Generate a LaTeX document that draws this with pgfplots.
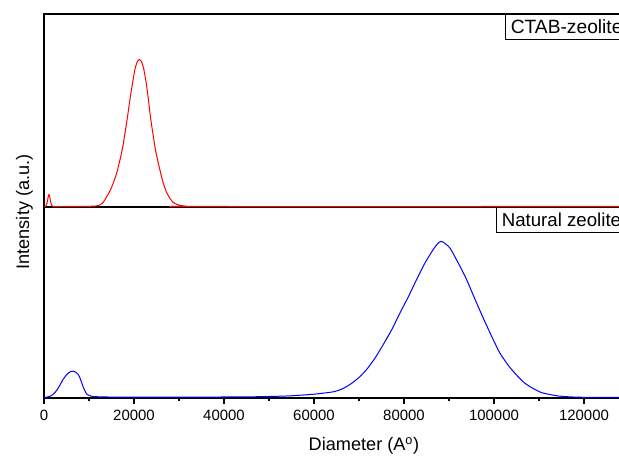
\documentclass[border=0pt]{standalone}
\usepackage{fontspec}
\setmainfont{Liberation Sans}
\usepackage{pgfplots}
\pgfplotsset{compat=1.18}
\begin{document}
\begin{tikzpicture}
\useasboundingbox (0,0) rectangle (464.25pt,344.25pt);
\clip (0,0) rectangle (464.25pt,344.25pt);
\pgfplotsset{
  common/.style={
    scale only axis, width=438.75pt, anchor=south west,
    xmin=0, xmax=130000, clip=false,
    axis line style={black, line width=1.1pt},
    tick style={black, line width=0.8pt},
    ytick=\empty,
    /pgf/number format/assume math mode=true,
    /pgf/number format/fixed,
    /pgf/number format/precision=0,
    /pgf/number format/1000 sep={},
    scaled x ticks=false,
  },
}
% bottom panel
\begin{axis}[common,
  at={(33pt,45.75pt)}, height=143.25pt,
  ymin=-0.5, ymax=190.5,
  xtick={0,20000,...,120000}, minor x tick num=1,
  xtick pos=bottom, tick align=outside,
  major tick length=4.5pt, minor tick length=2.6pt,
  xticklabel style={font=\fontsize{11.2}{13}\selectfont, inner sep=0pt, yshift=-4.2pt},
  xlabel={Diameter (A\textsuperscript{o})},
  xlabel style={font=\fontsize{13.6}{16}\selectfont, at={(axis description cs:0.547,0)}, anchor=base, yshift=-39.75pt},
  ylabel={Intensity (a.u.)},
  ylabel style={font=\fontsize{13.6}{16}\selectfont, at={(axis description cs:-0.02564,0.974)}, anchor=base},
]
\addplot[blue, line width=0.75pt, smooth, tension=0.4] coordinates {
(0,0) (500,0.3) (1300,1.2) (2000,3) (2800,7) (3500,12) (4300,18.5) (5000,22.5) (5400,24.5) (6000,26) (6500,26.3) (7000,25.5) (7600,23) (8000,19.5) (8400,14.5) (8800,9.5) (9100,6.5) (9500,3.5) (9800,2.5) (10500,1.3) (11700,0.8) (14000,0.5) (20000,0.4) (30000,0.4) (40000,0.5) (45000,0.6) (50000,1.0) (54000,1.5) (57000,2.3) (60000,3.3) (62000,4.3) (64300,5.7) (66000,8) (68000,13) (70000,20) (71700,28) (73500,39) (75400,53) (77300,68) (79100,84.5) (81000,101) (82800,118) (84600,134) (86500,148) (87500,154) (88150,156) (88800,155) (90200,149.5) (92000,135) (93900,118) (95700,99) (97600,79.5) (99500,61) (101300,44.5) (103200,32) (105000,22.5) (106800,14.5) (108700,9) (110500,5) (112400,3) (114300,1.5) (116200,0.8) (118000,0.4) (120000,0.2) (125000,0.1) (130000,0.1)
};
\node[draw, line width=0.75pt, fill=white, anchor=north west, inner xsep=4pt, inner ysep=0pt,
  minimum height=19pt, text height=9.9pt, text depth=0pt, font=\fontsize{14}{16}\selectfont]
  at (rel axis cs:0.7726,1) {Natural zeolite};
\end{axis}
% top panel
\begin{axis}[common,
  at={(33pt,189pt)}, height=144.75pt,
  ymin=-0.5, ymax=192.5,
  xtick=\empty,
]
\addplot[red, line width=0.75pt, smooth, tension=0.4] coordinates {
(0,0) (400,0.3) (700,4) (950,10) (1100,12) (1300,9) (1550,3) (1800,0.5) (2200,0) (5000,0) (8000,0) (10200,0.2) (11500,0.5) (12400,1.5) (13200,4.5) (13900,9.5) (14700,16) (15400,23.5) (16200,34) (16900,47) (17500,59.5) (18000,73.5) (18600,91) (19100,107) (19700,124) (20200,137) (20700,144.5) (21180,147) (21600,145.5) (22100,139) (22700,124) (23200,107) (23700,88) (24300,70) (24800,56) (25400,43.5) (26000,32) (26500,23.5) (27200,14.5) (28000,8) (28700,4.2) (29500,2.2) (30500,0.9) (31700,0.3) (33000,0) (130000,0)
};
\node[draw, line width=0.75pt, fill=white, anchor=north west, inner xsep=4pt, inner ysep=0pt,
  minimum height=18.5pt, text height=9.9pt, text depth=0pt, font=\fontsize{14.4}{16}\selectfont]
  at (rel axis cs:0.788,1) {CTAB-zeolite};
\end{axis}
\end{tikzpicture}
\end{document}
